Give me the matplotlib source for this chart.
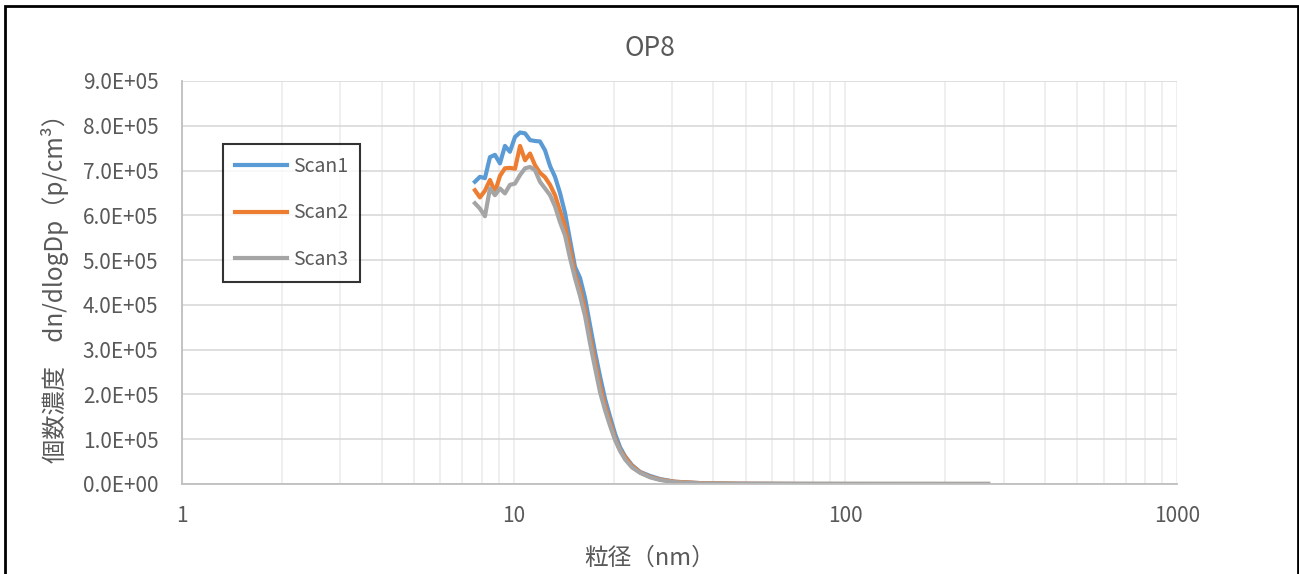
# OP8 particle size distribution, three consecutive scans
import matplotlib.pyplot as plt
from matplotlib.patches import Rectangle

plt.rcParams['font.family'] = ['Noto Sans CJK JP', 'DejaVu Sans']

# particle diameter (nm)
diameter = [7.64, 7.91, 8.19, 8.48, 8.78, 9.09, 9.41, 9.74, 10.09, 10.45,
            10.82, 11.20, 11.59, 12.00, 12.43, 12.87, 13.32, 13.79, 14.28, 14.78,
            15.30, 15.85, 16.41, 16.98, 17.58, 18.21, 18.85, 19.52, 20.21, 20.92,
            21.66, 22.73, 24.04, 25.76, 27.62, 30.64, 36.45, 48.1, 73.0, 127.2,
            269.1]

# dn/dlogDp (p/cm3)
scan1 = [6.75e5, 6.86e5, 6.83e5, 7.30e5, 7.35e5, 7.16e5, 7.55e5, 7.42e5, 7.75e5, 7.85e5,
         7.83e5, 7.68e5, 7.66e5, 7.65e5, 7.45e5, 7.10e5, 6.86e5, 6.50e5, 6.05e5, 5.45e5,
         4.85e5, 4.60e5, 4.15e5, 3.55e5, 2.95e5, 2.40e5, 1.90e5, 1.50e5, 1.12e5, 8.2e4,
         6.2e4, 4.2e4, 2.7e4, 1.8e4, 1.1e4, 5.0e3, 2.0e3, 600, 200, 100,
         50]
scan2 = [6.56e5, 6.40e5, 6.55e5, 6.79e5, 6.52e5, 6.88e5, 7.05e5, 7.06e5, 7.04e5, 7.55e5,
         7.23e5, 7.38e5, 7.12e5, 6.95e5, 6.85e5, 6.68e5, 6.45e5, 6.10e5, 5.75e5, 5.25e5,
         4.70e5, 4.35e5, 3.90e5, 3.30e5, 2.75e5, 2.20e5, 1.75e5, 1.38e5, 1.02e5, 7.6e4,
         6.0e4, 4.0e4, 2.6e4, 1.6e4, 1.0e4, 5.0e3, 2.0e3, 600, 200, 100,
         50]
scan3 = [6.27e5, 6.15e5, 5.98e5, 6.60e5, 6.45e5, 6.60e5, 6.49e5, 6.68e5, 6.71e5, 6.90e5,
         7.05e5, 7.08e5, 7.01e5, 6.75e5, 6.60e5, 6.45e5, 6.20e5, 5.85e5, 5.55e5, 5.05e5,
         4.60e5, 4.20e5, 3.75e5, 3.15e5, 2.60e5, 2.05e5, 1.65e5, 1.30e5, 9.8e4, 7.4e4,
         5.5e4, 3.7e4, 2.5e4, 1.5e4, 9.0e3, 4.0e3, 1.5e3, 500, 200, 100,
         50]

TEXT = '#595959'

fig = plt.figure(figsize=(12.99, 5.74), dpi=100)
ax = fig.add_axes([0.1401, 0.1568, 0.7661, 0.7021])

ax.plot(diameter, scan1, color='#5B9BD5', linewidth=3.0, label='Scan1')
ax.plot(diameter, scan2, color='#ED7D31', linewidth=3.0, label='Scan2')
ax.plot(diameter, scan3, color='#A5A5A5', linewidth=3.0, label='Scan3')

ax.set_xscale('log')
ax.set_xlim(1, 1000)
ax.set_ylim(0, 9e5)
ax.set_yticks([i * 1e5 for i in range(10)])
ax.set_yticklabels(['%.1fE+%02d' % (i, 5 if i else 0) for i in range(10)])
ax.set_xticks([1, 10, 100, 1000])
ax.set_xticklabels(['1', '10', '100', '1000'])

ax.grid(True, which='major', axis='y', color='#d9d9d9', linewidth=1.2)
ax.grid(True, which='both', axis='x', color='#ececec', linewidth=1.2)
ax.set_axisbelow(True)
for s in ['top', 'right']:
    ax.spines[s].set_visible(False)
for s in ['left', 'bottom']:
    ax.spines[s].set_color('#bfbfbf')
    ax.spines[s].set_linewidth(1.3)
ax.tick_params(which='both', length=0, labelsize=15, colors=TEXT)
ax.tick_params(axis='y', pad=17)
ax.tick_params(axis='x', pad=15)

ax.set_title('OP8', fontsize=19, color=TEXT, pad=18, x=0.47)
ax.set_xlabel('粒径（nm）', fontsize=17, color=TEXT, labelpad=14, x=0.47)
ax.set_ylabel('個数濃度\u3000dn/dlogDp（p/cm³）', fontsize=17.5, color=TEXT, labelpad=10)

leg = ax.legend(loc='upper left', bbox_to_anchor=(0.0412, 0.8437),
                borderaxespad=0, fancybox=False, edgecolor='black',
                fontsize=14, labelspacing=1.32, handlelength=2.7,
                handletextpad=0.3, borderpad=0.6, labelcolor=TEXT)
leg.get_frame().set_linewidth(1.5)

# outer chart border
fig.patches.append(Rectangle((5 / 1299, -0.05), 1293 / 1299, 1.0395,
                             transform=fig.transFigure, fill=False,
                             edgecolor='black', linewidth=2))

fig.savefig('out.png', dpi=100)
